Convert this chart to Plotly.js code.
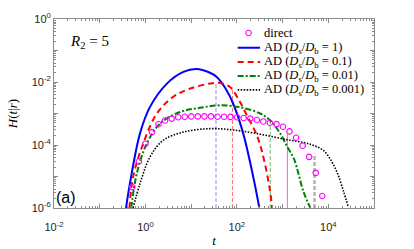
<!DOCTYPE html>
<html>
<head>
<meta charset="utf-8">
<script src="https://cdn.plot.ly/plotly-3.0.1.min.js"></script>
<style>html,body{margin:0;padding:0;background:#fff;}#chart{width:414px;height:249px;}</style>
</head>
<body>
<div id="chart"></div>
<script>
// "direct" simulation points
var directT = [0.516, 0.718, 1.0, 1.39, 1.93, 2.69, 3.74, 5.20, 7.24, 10.07, 14.0, 19.5, 27.1, 37.7, 52.4, 72.9, 101, 141, 196, 273, 379, 527, 735, 1021, 1419, 1977, 2748, 3819, 5321, 7396];
var directH = [4.6e-6, 3.0e-5, 1.1e-4, 2.57e-4, 4.57e-4, 6.0e-4, 6.9e-4, 7.6e-4, 7.9e-4, 8.1e-4, 8.1e-4, 8.1e-4, 8.1e-4, 7.9e-4, 7.9e-4, 7.8e-4, 7.6e-4, 7.2e-4, 6.9e-4, 6.2e-4, 5.6e-4, 5.1e-4, 4.6e-4, 3.8e-4, 2.7e-4, 1.7e-4, 9.5e-5, 4.2e-5, 1.3e-5, 2.4e-6];

// AD, Ds/Db = 1
var ad1T = [0.376, 0.457, 0.759, 1.26, 2.95, 6.76, 13.2, 25.1, 36.3, 56.2, 83.2, 138, 229, 309];
var ad1H = [1e-6, 5.9e-6, 2.3e-4, 1.62e-3, 8.9e-3, 0.0209, 0.0257, 0.020, 0.0145, 6.3e-3, 2.04e-3, 2.3e-4, 9.5e-6, 1.05e-6];
// AD, Ds/Db = 0.1
var ad01T = [0.447, 0.537, 0.891, 1.78, 4.07, 9.55, 25.7, 42.7, 70.8, 112, 166, 275, 389, 537, 589];
var ad01H = [1e-6, 9.5e-6, 1.1e-4, 1.0e-3, 3.4e-3, 6.2e-3, 8.9e-3, 9.3e-3, 6.9e-3, 2.6e-3, 8.7e-4, 2.0e-4, 3.6e-5, 3.2e-6, 1e-6];
// AD, Ds/Db = 0.01
var ad001T = [0.49, 0.646, 1.07, 2.09, 5.75, 15.5, 42.7, 117, 324, 562, 891, 1259, 1778, 2884, 4074];
var ad001H = [1e-6, 1.23e-5, 1.1e-4, 4.8e-4, 1.12e-3, 1.51e-3, 1.82e-3, 1.58e-3, 1.0e-3, 5.6e-4, 2.3e-4, 8.9e-5, 3.6e-5, 3.2e-6, 1e-6];
// AD, Ds/Db = 0.001
var ad0001T = [0.537, 0.759, 1.26, 2.45, 6.76, 25.7, 83.2, 324, 1230, 2884, 4677, 7762, 10965, 15488, 21380, 27542];
var ad0001H = [1e-6, 5.9e-6, 4.2e-5, 1.41e-4, 2.57e-4, 3.3e-4, 3.0e-4, 2.2e-4, 1.48e-4, 1.2e-4, 9.8e-5, 6.8e-5, 3.6e-5, 1.38e-5, 3.5e-6, 1.05e-6];

// vertical marker lines (time, top value), bottom at axis floor
var markT = [35, 80, 537, 1274, 5000];
var markTop = [9.1e-3, 6.8e-3, 5.6e-4, 2.3e-4, 5.4e-5];
var markFloor = 1e-6;

// tick labels
var xTickVals = [1e-2, 1e-1, 1e0, 1e1, 1e2, 1e3, 1e4, 1e5];
var xTickText = ['10<sup>-2</sup>', '', '10<sup>0</sup>', '', '10<sup>2</sup>', '', '10<sup>4</sup>', ''];
var yTickVals = [1e-6, 1e-5, 1e-4, 1e-3, 1e-2, 1e-1, 1e0];
var yTickText = ['10<sup>-6</sup>', '', '10<sup>-4</sup>', '', '10<sup>-2</sup>', '', '10<sup>0</sup>'];

var legendNames = ['direct', 'AD (<i>D</i><sub>s</sub>/<i>D</i><sub>b</sub> = 1)', 'AD (<i>D</i><sub>s</sub>/<i>D</i><sub>b</sub> = 0.1)', 'AD (<i>D</i><sub>s</sub>/<i>D</i><sub>b</sub> = 0.01)', 'AD (<i>D</i><sub>s</sub>/<i>D</i><sub>b</sub> = 0.001)'];

var markStyles = [
  {color: '#8f8fff', width: 1, dash: '4px,2px'},
  {color: '#ff7070', width: 1, dash: '4px,2px'},
  {color: '#6fb86f', width: 1, dash: '4px,2px'},
  {color: '#ff55ff', width: 1, dash: 'solid'},
  {color: '#b4b4b4', width: 2.5, dash: '4px,2px'}
];

var traces = [];
for (var i = 0; i < markT.length; i++) {
  traces.push({x: [markT[i], markT[i]], y: [markFloor, markTop[i]], mode: 'lines', line: markStyles[i], showlegend: false, hoverinfo: 'skip'});
}
var curveStyles = [
  {color: '#0000ff', width: 2, dash: 'solid'},
  {color: '#ff0000', width: 2, dash: '6px,4px'},
  {color: '#008000', width: 2, dash: '6px,2px,2px,2px'},
  {color: '#000000', width: 1.6, dash: '1.5px,1.5px'}
];
var curvesT = [ad1T, ad01T, ad001T, ad0001T];
var curvesH = [ad1H, ad01H, ad001H, ad0001H];
for (var j = 0; j < 4; j++) {
  traces.push({x: curvesT[j], y: curvesH[j], mode: 'lines', line: Object.assign({shape: 'spline', smoothing: 1}, curveStyles[j]), showlegend: false});
}
var circleMarker = {symbol: 'circle-open', size: 5.5, color: '#ff00ff', line: {width: 1.1, color: '#ff00ff'}};
traces.push({x: directT, y: directH, mode: 'markers', marker: circleMarker, showlegend: false});

// custom legend drawn on a hidden unit axis
var legY = [0.926, 0.848, 0.772, 0.698, 0.625];
traces.push({x: [0.608], y: [legY[0]], xaxis: 'x2', yaxis: 'y2', mode: 'markers', marker: circleMarker, showlegend: false, hoverinfo: 'skip'});
for (var k = 0; k < 4; k++) {
  traces.push({x: [0.574, 0.644], y: [legY[k + 1], legY[k + 1]], xaxis: 'x2', yaxis: 'y2', mode: 'lines', line: curveStyles[k], showlegend: false, hoverinfo: 'skip'});
}

var serif = '"Liberation Serif", "DejaVu Serif", serif';
var sans = '"Liberation Sans", Arial, sans-serif';
var annotations = [];
for (var m = 0; m < legendNames.length; m++) {
  annotations.push({xref: 'paper', yref: 'paper', x: 0.650, y: legY[m], xanchor: 'left', yanchor: 'middle', text: legendNames[m], showarrow: false, font: {family: serif, size: 12.5, color: '#000'}});
}
annotations.push({xref: 'paper', yref: 'paper', x: 0.043, y: 0.88, xanchor: 'left', yanchor: 'middle', text: '<i>R</i><sub>2</sub> = 5', showarrow: false, font: {family: serif, size: 15, color: '#000'}});
annotations.push({xref: 'paper', yref: 'paper', x: 0.0, y: 0.058, xanchor: 'left', yanchor: 'middle', text: '(a)', showarrow: false, font: {family: sans, size: 16, color: '#000'}});

var axisCommon = {
  type: 'log', showline: true, linecolor: '#8c8c8c', linewidth: 1, mirror: 'ticks',
  ticks: 'inside', ticklen: 4, tickcolor: '#8c8c8c', tickmode: 'array',
  showgrid: false, zeroline: false,
  tickfont: {family: sans, size: 11, color: '#262626'},
  minor: {ticks: 'inside', ticklen: 2, tickcolor: '#8c8c8c', dtick: 'D1', showgrid: false}
};

var layout = {
  width: 414, height: 249,
  margin: {l: 54, r: 40, t: 19, b: 41.3},
  paper_bgcolor: '#fff', plot_bgcolor: '#fff',
  showlegend: false,
  xaxis: Object.assign({}, axisCommon, {range: [-2, 5], tickvals: xTickVals, ticktext: xTickText, ticklabelstandoff: 9,
    title: {text: '<i>t</i>', font: {family: serif, size: 13, color: '#000'}, standoff: 3}}),
  yaxis: Object.assign({}, axisCommon, {range: [-6, 0], tickvals: yTickVals, ticktext: yTickText,
    title: {text: '<i>H</i>(<i>t</i>|<i>r</i>)', font: {family: serif, size: 13, color: '#000'}, standoff: 11}}),
  xaxis2: {overlaying: 'x', range: [0, 1], visible: false, fixedrange: true},
  yaxis2: {overlaying: 'y', range: [0, 1], visible: false, fixedrange: true},
  annotations: annotations
};

Plotly.newPlot('chart', traces, layout, {staticPlot: true, displayModeBar: false});
</script>
</body>
</html>
